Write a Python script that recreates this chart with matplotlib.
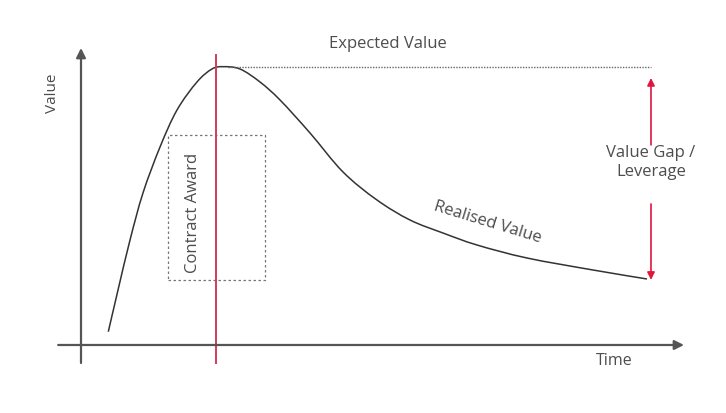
import matplotlib.pyplot as plt
import numpy as np
from matplotlib.path import Path
from matplotlib.patches import PathPatch

# Realised value curve (time, value in arbitrary units)
time = [4.55, 6.17, 8.17, 10.33, 13.17, 16.0, 19.33, 21.83, 23.67, 26.5,
        29.83, 33.17, 38.17, 43.67, 49.33, 54.83, 60.33, 66.0, 74.33,
        85.33, 94.33]
value = [4.43, 18.33, 35.0, 50.67, 66.0, 78.33, 87.67, 92.0, 92.77, 92.0,
         87.67, 81.67, 70.67, 57.67, 48.33, 41.67, 37.33, 33.33, 29.0,
         25.0, 22.0]

award_time = 22.5
award_box = (14.5, 30.7, 21.7, 70.0)   # t0, t1, v0, v1
expected_value = 92.8
expected_span = (24.5, 95.0)
gap_time = 95.0

text_col = "#4d4d4d"
axis_col = "#555555"
red_line = "#d23c58"
red_arrow = "#e0163f"

plt.rcParams['font.family'] = ['Open Sans', 'DejaVu Sans']


def smooth_path(x, y):
    # Catmull-Rom through the read points, drawn as cubic Bezier segments
    p = np.column_stack([x, y])
    p = np.vstack([p[0], p, p[-1]])
    verts = [p[1]]
    codes = [Path.MOVETO]
    for i in range(1, len(p) - 2):
        c1 = p[i] + (p[i + 1] - p[i - 1]) / 6.0
        c2 = p[i + 1] - (p[i + 2] - p[i]) / 6.0
        verts += [c1, c2, p[i + 1]]
        codes += [Path.CURVE4] * 3
    return Path(verts, codes)


fig = plt.figure(figsize=(7.26, 4.13), dpi=100)
ax = fig.add_axes([0, 0, 1, 1])
ax.set_xlim(-13.5, 107.5)
ax.set_ylim(-22.67, 115)
ax.axis("off")

#  Axes with arrow heads
ax.annotate("", xy=(0, 99), xytext=(0, -6),
            arrowprops=dict(arrowstyle="-|>", color=axis_col, lw=1.6,
                            mutation_scale=14, shrinkA=0, shrinkB=0))
ax.annotate("", xy=(100.5, 0), xytext=(-3.8, 0),
            arrowprops=dict(arrowstyle="-|>", color=axis_col, lw=1.6,
                            mutation_scale=14, shrinkA=0, shrinkB=0))
ax.text(-4.8, 84, "Value", rotation=90, ha="center", va="center",
        fontsize=11, color=text_col)
ax.text(88.8, -5.3, "Time", ha="center", va="center", fontsize=11.5,
        color=text_col)

#  Contract award marker and box
t0, t1, v0, v1 = award_box
ax.plot([t0, t1, t1, t0, t0], [v0, v0, v1, v1, v0], ls=(0, (2, 2)),
        color="#777777", lw=0.9)
ax.plot([award_time, award_time], [-6, 96.7], color=red_line, lw=1.4)
ax.text(18.7, 44, "Contract Award", rotation=90, ha="center", va="center",
        fontsize=12, color=text_col)

#  Expected value
ax.plot(expected_span, [expected_value, expected_value], ls=(0, (1, 1)),
        color="#666666", lw=1.0)
ax.text(51.2, 100.3, "Expected Value", ha="center", va="center", fontsize=12,
        color=text_col)

#  Realised value
ax.add_patch(PathPatch(smooth_path(time, value), fill=False,
                       edgecolor="#333333", lw=1.1))
ax.text(67.7, 40.7, "Realised Value", rotation=-17, ha="center", va="center",
        fontsize=12, color=text_col, rotation_mode="anchor")

#  Value gap arrows
ax.annotate("", xy=(gap_time, 89), xytext=(gap_time, 66.7),
            arrowprops=dict(arrowstyle="-|>", color=red_arrow, lw=1.2,
                            mutation_scale=11, shrinkA=0, shrinkB=0))
ax.annotate("", xy=(gap_time, 21.7), xytext=(gap_time, 47),
            arrowprops=dict(arrowstyle="-|>", color=red_arrow, lw=1.2,
                            mutation_scale=11, shrinkA=0, shrinkB=0))
ax.text(gap_time, 60.8, "Value Gap /\nLeverage", ha="center", va="center",
        fontsize=12, color=text_col, linespacing=1.25)

fig.savefig("out.png", dpi=100)
